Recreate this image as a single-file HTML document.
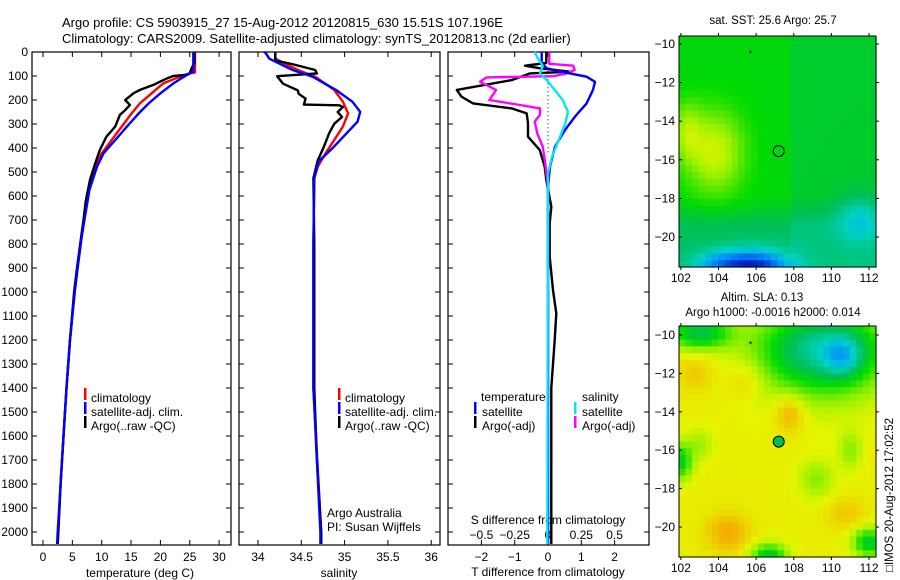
<!DOCTYPE html>
<html><head><meta charset="utf-8"><style>
html,body{margin:0;padding:0;background:#fff;}
svg{display:block;font-family:"Liberation Sans",sans-serif;}
</style></head><body>
<svg id="fig" width="900" height="580" viewBox="0 0 900 580" xmlns="http://www.w3.org/2000/svg">
<text x="62" y="27" font-size="13">Argo profile: CS 5903915_27 15-Aug-2012 20120815_630 15.51S 107.196E</text>
<text x="62" y="43" font-size="13">Climatology: CARS2009. Satellite-adjusted climatology: synTS_20120813.nc (2d earlier)</text>
<text x="773" y="24" font-size="11.5" text-anchor="middle">sat. SST: 25.6 Argo: 25.7</text>
<text x="762" y="301" font-size="11.5" text-anchor="middle">Altim. SLA: 0.13</text>
<text x="773" y="316" font-size="11.5" text-anchor="middle">Argo h1000: -0.0016 h2000: 0.014</text>
<text transform="translate(893,572) rotate(-90)" font-size="11.5">□IMOS 20-Aug-2012 17:02:52</text>
<g id="layer"></g>
</svg>
<script>
// ---- data ----
const tempArgoDepth=[0,46,68,89,95,100,110,124,137,158,172,200,221,242,262,311,353,408,464,533,617,700,769,900,1000,1200,1400,1600,1800,2000,2050];
const tempArgo=[25.8,25.8,25.3,25.0,24.5,22.2,21.1,19.9,18.8,16.5,15.4,14.0,14.8,14.0,13.1,12.3,10.8,9.7,8.9,8.0,7.3,6.9,6.5,5.8,5.3,4.6,4.0,3.5,3.0,2.6,2.5];
const tempClimDepth=[0,85,89,103,131,172,214,256,311,367,422,478,575,769,900,1000,1200,1400,1600,1800,2000,2050];
const tempClim=[25.9,25.9,24.9,23.3,20.5,18.5,16.5,15.1,13.4,11.7,10.0,8.9,7.7,6.6,5.9,5.4,4.6,4.0,3.5,3.0,2.6,2.5];
const tempSatDepth=[0,82,96,131,172,214,256,311,367,422,478,575,769,900,1000,1200,1400,1600,1800,2000,2050];
const tempSat=[25.6,25.6,24.5,22.2,20.0,18.0,16.3,14.3,12.3,10.3,9.2,7.9,6.6,5.9,5.4,4.6,4.0,3.5,3.0,2.5,2.4];

const salSatDepth=[0,5,28,75,103,158,207,249,290,332,401,456,526,800,1400,2000,2050];
const salSat=[34.07,34.09,34.13,34.40,34.63,34.90,35.09,35.18,35.15,35.04,34.86,34.70,34.65,34.64,34.64,34.72,34.72];
const salClimDepth=[0,28,75,103,158,207,256,311,367,422,478,526,800,1400,2000,2050];
const salClim=[34.2,34.2,34.46,34.66,34.88,34.98,35.04,34.98,34.88,34.78,34.69,34.65,34.64,34.64,34.73,34.73];
const salArgoDepth=[0,36,50,75,89,101,132,160,174,194,219,222,229,250,271,299,340,396,451,526,800,1400,1700,2000,2050];
const salArgo=[34.2,34.2,34.39,34.66,34.68,34.22,34.29,34.46,34.47,34.55,34.53,34.94,34.98,34.92,34.97,34.88,34.82,34.76,34.69,34.64,34.65,34.65,34.68,34.73,34.73];

const dTSatDepth=[0,46,68,89,103,124,158,214,269,325,394,478,560,2050];
const dTSat=[-0.19,-0.19,-0.04,0.66,1.16,1.41,1.35,1.16,0.81,0.51,0.21,0.06,0,0];
const dTArgoDepth=[0,46,57,68,82,89,117,158,186,214,235,256,297,353,408,478,533,644,714,853,992,1089,1200,1400,1700,2050];
const dTArgo=[-0.05,-0.05,-0.69,-0.24,0.66,-0.54,-1.09,-2.74,-2.6,-2.25,-1.09,-0.64,-0.6,-0.6,-0.25,-0.1,-0.05,0.1,0.05,0.05,0.15,0.25,0.2,0.1,0.1,0.1];
const dSArgoDepth=[0,49,57,75,89,101,106,124,158,200,221,235,262,290,339,394,464,560,2050];
const dSArgo=[0.01,0.01,0.19,0.2,0.14,0.04,-0.46,-0.51,-0.39,-0.44,-0.21,-0.06,-0.06,-0.1,-0.08,-0.04,-0.02,0,0];
const dSSatDepth=[0,28,57,89,117,158,200,249,297,367,436,506,2050];
const dSSat=[-0.1,-0.075,-0.04,-0.06,-0.01,0.05,0.11,0.15,0.13,0.08,0.03,0.0,-0.005];

const depthTicks=[0,100,200,300,400,500,600,700,800,900,1000,1100,1200,1300,1400,1500,1600,1700,1800,1900,2000];
const tempTicks=[0,5,10,15,20,25,30];
const salTicks=[34,34.5,35,35.5,36];
const salTickLabels=["34","34.5","35","35.5","36"];
const dTTicks=[-2,-1,0,1,2];
const dSTicks=[-0.5,-0.25,0,0.25,0.5];
const dSTickLabels=["\u22120.5","\u22120.25","0","0.25","0.5"];
const lonTicks=[102,104,106,108,110,112];
const latTicks=[-10,-12,-14,-16,-18,-20];

// ---- helpers ----
const NS="http://www.w3.org/2000/svg";
const layer=document.getElementById('layer');
function mk(tag,attrs,parent){const e=document.createElementNS(NS,tag);for(const k in attrs)e.setAttribute(k,attrs[k]);(parent||layer).appendChild(e);return e;}
const yD=d=>52+d*0.24;
const xT=t=>43+t*5.87;
const xS=s=>258+(s-34)*86.6;
const xDT=t=>548+t*33.3;
const xDS=s=>548+s*133.2;

function frame(x0,x1,name){
  const r=mk('rect',{x:x0,y:52,width:x1-x0,height:493,fill:'none',stroke:'#000','stroke-width':1.2});
  
  
  depthTicks.forEach(d=>{
    const t1=mk('line',{x1:x0,x2:x0+5,y1:yD(d),y2:yD(d),stroke:'#000'});
    
    
    const t2=mk('line',{x1:x1-5,x2:x1,y1:yD(d),y2:yD(d),stroke:'#000'});
    
    
  });
}
function xticks(vals,fx,labels,ly){
  vals.forEach((v,i)=>{
    const x=fx(v);
    const a=mk('line',{x1:x,x2:x,y1:545,y2:540,stroke:'#000'});
    
    
    const b=mk('line',{x1:x,x2:x,y1:52,y2:57,stroke:'#000'});
    
    
    if(labels){const t=mk('text',{x:x,y:ly,'font-size':12,'text-anchor':'middle'});t.textContent=labels[i];
      
      }
  });
}
function line(depths,vals,fx,color,name,w){
  const pts=depths.map((d,i)=>fx(vals[i]).toFixed(1)+','+yD(d).toFixed(1)).join(' ');
  const p=mk('polyline',{points:pts,fill:'none',stroke:color,'stroke-width':w||2.4,'stroke-linejoin':'round'});
  
  
}
function txt(x,y,s,name,size,anchor){const t=mk('text',{x:x,y:y,'font-size':size||12,'text-anchor':anchor||'start'});t.textContent=s;
  
  return t;}
function legMark(x,y,color,name){const r=mk('rect',{x:x,y:y-10,width:2.5,height:12,fill:color});
  
  }

// ---- panel 1: temperature ----
frame(32,231,'temperature-panel');
depthTicks.forEach(d=>{txt(28,yD(d)+4,String(d),'depth-tick-label',12,'end');});
xticks(tempTicks,xT,tempTicks.map(String),561);
txt(140,577,'temperature (deg C)','temperature-axis-title',12,'middle');
line(tempClimDepth,tempClim,xT,'#ff0000','temp-climatology-line');
line(tempArgoDepth,tempArgo,xT,'#000000','temp-argo-line');
line(tempSatDepth,tempSat,xT,'#0000ff','temp-satellite-line');
legMark(84,398,'#ff0000','legend-marker-climatology');txt(91,402,'climatology','legend-climatology');
legMark(84,412,'#0000ff','legend-marker-satellite');txt(91,416,'satellite-adj. clim.','legend-satellite');
legMark(84,426,'#000','legend-marker-argo');txt(91,430,'Argo(..raw -QC)','legend-argo');

// ---- panel 2: salinity ----
frame(239,440,'salinity-panel');
xticks(salTicks,xS,salTickLabels,561);
txt(339,577,'salinity','salinity-axis-title',12,'middle');
line(salClimDepth,salClim,xS,'#ff0000','sal-climatology-line');
line(salArgoDepth,salArgo,xS,'#000000','sal-argo-line');
line(salSatDepth,salSat,xS,'#0000ff','sal-satellite-line');
legMark(338,398,'#ff0000','legend-marker-climatology');txt(345,402,'climatology','legend-climatology');
legMark(338,412,'#0000ff','legend-marker-satellite');txt(345,416,'satellite-adj. clim.','legend-satellite');
legMark(338,426,'#000','legend-marker-argo');txt(345,430,'Argo(..raw -QC)','legend-argo');
txt(327,517,'Argo Australia','credit-argo-australia');
txt(327,531,'PI: Susan Wijffels','credit-pi');

// ---- panel 3: differences ----
frame(448,649,'difference-panel');
xticks(dTTicks,xDT,dTTicks.map(v=>v<0?'\u2212'+Math.abs(v):String(v)),561);
dSTicks.forEach((v,i)=>{txt(xDS(v),539,dSTickLabels[i],'s-diff-tick-label',12,'middle');});
txt(548,524,'S difference from climatology','s-diff-axis-title',12,'middle');
txt(548,576,'T difference from climatology','t-diff-axis-title',12,'middle');
const zl=mk('line',{x1:548,x2:548,y1:yD(80),y2:yD(420),stroke:'#000','stroke-dasharray':'1,3'});


line(dTArgoDepth,dTArgo,xDT,'#000000','t-diff-argo-line');
line(dSArgoDepth,dSArgo,xDS,'#ff00ff','s-diff-argo-line');
line(dTSatDepth,dTSat,xDT,'#0000ff','t-diff-satellite-line');
line(dSSatDepth,dSSat,xDS,'#00e8f0','s-diff-satellite-line');
txt(481,401,'temperature','legend-temperature-header');
txt(582,401,'salinity','legend-salinity-header');
legMark(474,412,'#0000ff','legend-marker-t-sat');txt(482,416,'satellite','legend-t-satellite');
legMark(474,426,'#000','legend-marker-t-argo');txt(482,430,'Argo(-adj)','legend-t-argo');
legMark(574,412,'#00e8f0','legend-marker-s-sat');txt(582,416,'satellite','legend-s-satellite');
legMark(574,426,'#ff00ff','legend-marker-s-argo');txt(582,430,'Argo(-adj)','legend-s-argo');

// ---- maps ----
const stops=[[0,[0,20,190]],[0.2,[0,140,255]],[0.35,[0,210,200]],[0.5,[0,190,80]],[0.6,[0,220,0]],[0.72,[150,240,0]],[0.8,[230,245,0]],[0.9,[245,170,0]],[1,[230,100,0]]];
function cmap(v){v=Math.max(0,Math.min(1,v));for(let i=1;i<stops.length;i++){if(v<=stops[i][0]){const a=stops[i-1],b=stops[i];const f=(v-a[0])/(b[0]-a[0]);return 'rgb('+a[1].map((c,k)=>Math.round(c+(b[1][k]-c)*f)).join(',')+')';}}return 'rgb(230,100,0)';}
function g(lon,lat,cx,cy,rx,ry){return Math.exp(-(((lon-cx)/rx)**2+((lat-cy)/ry)**2));}
function sst(lon,lat){let v=0.585;v+=0.19*g(lon,lat,103.8,-15.6,1.6,2.2);v+=0.12*g(lon,lat,102.3,-14.5,0.8,1.5);
  v-=0.1*(lat<-18?Math.min(1,(-18-lat)/1.5):0);v-=0.45*g(lon,lat,106,-21.6,1.8,0.9);v-=0.2*g(lon,lat,104,-21.4,1.5,0.7);v-=0.15*g(lon,lat,111.5,-19,1.2,1.2);
  v-=0.04*(lon>108?1:0);return v;}
function sla(lon,lat){let v=0.81;
  v-=0.3*g(lon,lat,109.5,-11,3.3,2.3);v-=0.12*g(lon,lat,109.5,-10.5,3,1.5);v-=0.22*g(lon,lat,110.6,-11.1,1.0,1.0);
  v+=0.1*g(lon,lat,107.8,-14,0.8,1.0);v+=0.09*g(lon,lat,104.5,-20.3,1.1,1.0);v+=0.05*g(lon,lat,102.8,-12,1,1);v+=0.06*g(lon,lat,105.5,-12.3,1,1);v+=0.05*g(lon,lat,110.8,-19.3,1,0.8);
  v-=0.3*g(lon,lat,103,-9.9,1.6,0.8);v-=0.27*g(lon,lat,106.7,-21.5,0.9,0.6);v-=0.27*g(lon,lat,112,-20.8,0.8,0.7);v-=0.24*g(lon,lat,102,-16.6,0.6,0.9);
  v-=0.1*g(lon,lat,109.2,-17.5,0.9,1);v-=0.1*g(lon,lat,111,-16,0.6,1);v-=0.08*g(lon,lat,103,-15.7,0.7,0.8);return v;}
function map(top,bottom,latTop,latBot,field,name,filled){
  const x0=679,x1=876,lonL=101.9,lonR=112.37;
  const fx=lon=>x0+(lon-lonL)/(lonR-lonL)*(x1-x0);
  const fy=lat=>top+(latTop-lat)/(latTop-latBot)*(bottom-top);
  const grp=mk('g',{});
  
  
  const nc=30,nr=34;const cw=(x1-x0)/nc,ch=(bottom-top)/nr;
  for(let i=0;i<nc;i++)for(let j=0;j<nr;j++){
    const lon=lonL+(i+0.5)/nc*(lonR-lonL),lat=latTop-(j+0.5)/nr*(latTop-latBot);
    mk('rect',{x:(x0+i*cw).toFixed(2),y:(top+j*ch).toFixed(2),width:(cw+0.6).toFixed(2),height:(ch+0.6).toFixed(2),fill:cmap(field(lon,lat))},grp);
  }
  mk('rect',{x:x0,y:top,width:x1-x0,height:bottom-top,fill:'none',stroke:'#000','stroke-width':1},grp);
  lonTicks.forEach(l=>{mk('line',{x1:fx(l),x2:fx(l),y1:top,y2:top-3,stroke:'#000'},grp);mk('line',{x1:fx(l),x2:fx(l),y1:bottom,y2:bottom+3,stroke:'#000'},grp);
    const t=mk('text',{x:fx(l),y:bottom+15,'font-size':12,'text-anchor':'middle'},grp);t.textContent=String(l);
    
    });
  latTicks.forEach(l=>{mk('line',{x1:x1,x2:x1+3,y1:fy(l),y2:fy(l),stroke:'#000'},grp);mk('line',{x1:x0,x2:x0+3,y1:fy(l),y2:fy(l),stroke:'#000'},grp);
    const t=mk('text',{x:x0-4,y:fy(l)+4,'font-size':12,'text-anchor':'end'},grp);t.textContent=String(l).replace('-','\u2212');
    
    });
  const c=mk('circle',{cx:fx(107.2),cy:fy(-15.55),r:5.5,fill:filled?'#00c040':'none',stroke:'#000','stroke-width':1},grp);
  
  
  const s=mk('text',{x:fx(105.7),y:fy(-10.5)+3,'font-size':9,'text-anchor':'middle'},grp);s.textContent='*';
  
  
}
map(36,267,-9.59,-21.55,sst,'sst-map',false);
map(326,557,-9.53,-21.56,sla,'sla-map',true);
</script>
</body></html>
